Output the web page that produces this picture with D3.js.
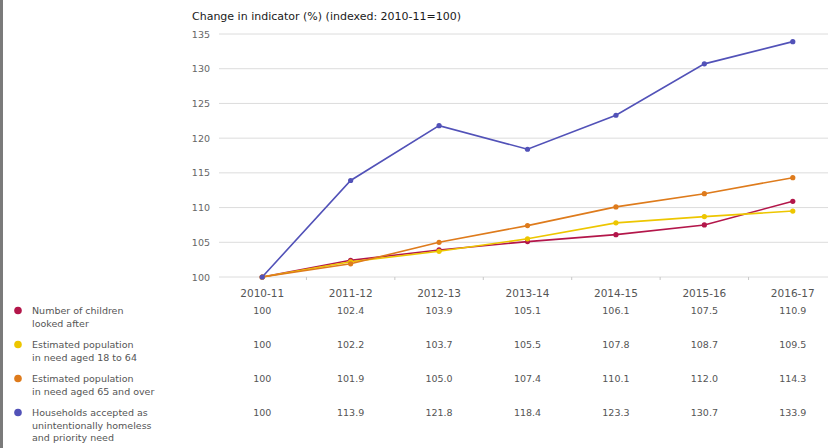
<!DOCTYPE html>
<html>
<head>
<meta charset="utf-8">
<script src="https://cdn.jsdelivr.net/npm/d3@7"></script>
<style>
  body { margin: 0; background: #fff; }
  svg { display: block; font-family: "DejaVu Sans", sans-serif; }
</style>
</head>
<body>
<div id="chart"></div>
<script>
// VARIABLES
var width = 828;
var height = 448;

var years = ["2010-11", "2011-12", "2012-13", "2013-14", "2014-15", "2015-16", "2016-17"];
var yTicks = [100, 105, 110, 115, 120, 125, 130, 135];

var seriesNames = [
  ["Number of children", "looked after"],
  ["Estimated population", "in need aged 18 to 64"],
  ["Estimated population", "in need aged 65 and over"],
  ["Households accepted as", "unintentionally homeless", "and priority need"]
];
var seriesColors = ["#b3164a", "#edc600", "#de7b1c", "#5252b8"];

var children = [100, 102.4, 103.9, 105.1, 106.1, 107.5, 110.9];
var aged18to64 = [100, 102.2, 103.7, 105.5, 107.8, 108.7, 109.5];
var aged65over = [100, 101.9, 105.0, 107.4, 110.1, 112.0, 114.3];
var households = [100, 113.9, 121.8, 118.4, 123.3, 130.7, 133.9];

var seriesValues = [children, aged18to64, aged65over, households];

//Create SVG element
var svg = d3.select("#chart")
      .append("svg")
      .attr("width", width)
      .attr("height", height);

// left border bar
svg.append("rect")
   .attr("x", 0).attr("y", 0)
   .attr("width", 3).attr("height", height)
   .attr("fill", "#7a7a7a");

var xScale = d3.scaleBand()
      .domain(years)
      .range([218, 837]);

var yScale = d3.scaleLinear()
      .domain([100, 135])
      .range([277, 34]);

var xCenter = function(d) { return xScale(d) + xScale.bandwidth() / 2; };

// title
svg.append("text")
   .attr("x", 192)
   .attr("y", 20)
   .attr("font-size", "11px")
   .attr("fill", "#1a1a1a")
   .text("Change in indicator (%) (indexed: 2010-11=100)");

// gridlines
svg.selectAll("line.grid")
   .data(yTicks)
   .enter()
   .append("line")
   .attr("class", "grid")
   .attr("x1", 219)
   .attr("x2", width)
   .attr("y1", function(d) { return yScale(d); })
   .attr("y2", function(d) { return yScale(d); })
   .attr("stroke", "#dcdcdc")
   .attr("stroke-width", 1);

//Define Y axis labels
svg.selectAll("text.ytick")
   .data(yTicks)
   .enter()
   .append("text")
   .attr("class", "ytick")
   .attr("x", 210)
   .attr("y", function(d) { return yScale(d) + 3.5; })
   .attr("text-anchor", "end")
   .attr("font-size", "9.5px")
   .attr("fill", "#666")
   .text(function(d) { return d; });

// X axis with ticks between categories
var xAxis = d3.axisBottom(xScale).tickSize(0).tickPadding(13);
var gx = svg.append("g")
   .attr("transform", "translate(0," + yScale(100) + ")")
   .call(xAxis);
gx.select(".domain").remove();
gx.selectAll("text")
   .attr("font-family", "DejaVu Sans, sans-serif")
   .attr("font-size", "10.5px")
   .attr("fill", "#555");

svg.selectAll("line.xtick")
   .data(years.slice(1))
   .enter()
   .append("line")
   .attr("class", "xtick")
   .attr("x1", function(d) { return xScale(d); })
   .attr("x2", function(d) { return xScale(d); })
   .attr("y1", yScale(100))
   .attr("y2", yScale(100) + 3)
   .attr("stroke", "#c8c8c8")
   .attr("stroke-width", 1);

// lines + points
var line = d3.line()
   .x(function(d, i) { return xCenter(years[i]); })
   .y(function(d) { return yScale(d); });

seriesValues.forEach(function(vals, s) {
  svg.append("path")
     .datum(vals)
     .attr("d", line)
     .attr("fill", "none")
     .attr("stroke", seriesColors[s])
     .attr("stroke-width", 1.6);

  svg.selectAll("circle.s" + s)
     .data(vals)
     .enter()
     .append("circle")
     .attr("class", "s" + s)
     .attr("cx", function(d, i) { return xCenter(years[i]); })
     .attr("cy", function(d) { return yScale(d); })
     .attr("r", 2.6)
     .attr("fill", seriesColors[s]);
});

// legend + data table
var rowY = [314, 348, 382, 416];

seriesNames.forEach(function(names, s) {
  svg.append("circle")
     .attr("cx", 18)
     .attr("cy", rowY[s] - 3.5)
     .attr("r", 3.8)
     .attr("fill", seriesColors[s]);

  svg.selectAll("text.leg" + s)
     .data(names)
     .enter()
     .append("text")
     .attr("class", "leg" + s)
     .attr("x", 32)
     .attr("y", function(d, i) { return rowY[s] + i * 12.5; })
     .attr("font-size", "9.5px")
     .attr("fill", "#555")
     .text(function(d) { return d; });

  svg.selectAll("text.val" + s)
     .data(seriesValues[s])
     .enter()
     .append("text")
     .attr("class", "val" + s)
     .attr("x", function(d, i) { return xCenter(years[i]); })
     .attr("y", rowY[s])
     .attr("text-anchor", "middle")
     .attr("font-size", "9.5px")
     .attr("fill", "#555")
     .text(function(d, i) { return i === 0 ? "100" : d.toFixed(1); });
});
</script>
</body>
</html>
